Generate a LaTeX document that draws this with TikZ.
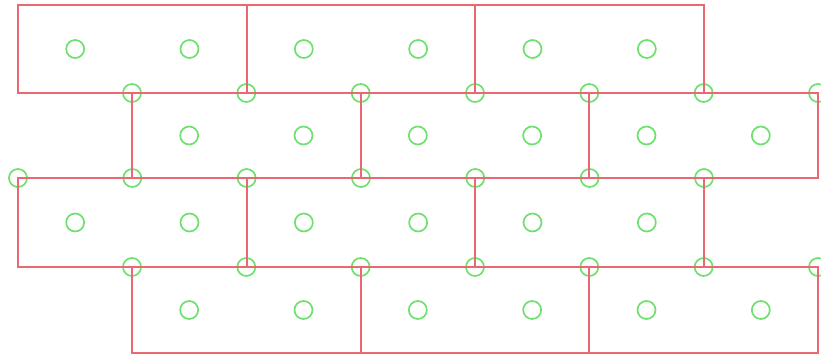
\documentclass[tikz,border=0pt]{standalone}
\definecolor{brickred}{RGB}{234,104,112}
\definecolor{pingreen}{RGB}{110,224,110}

\begin{document}
\begin{tikzpicture}[
  x=0.5pt,y=-0.5pt,
  brick/.style={draw=brickred,line width=1.15pt},
  pin/.style={draw=pingreen,line width=0.85pt}
]
  \useasboundingbox (0,0) rectangle (821,358);

  % pins: two per brick, and along the top edge of rows 2 to 4
  \foreach \xa/\ya/\yb in {18/5/93, 132/93/178, 18/178/267, 132/267/353} {
    \foreach \k in {0,1,2,3,4,5}
      \draw[pin] ({\xa+57.17+114.33*\k},{(\ya+\yb)/2}) circle (9);
  }
  \foreach \xa/\ya in {132/93, 18/178, 132/267} {
    \foreach \j in {0,...,6}
      \draw[pin] ({\xa+114.33*\j},\ya) circle (9);
  }

  % bricks
  \foreach \xa/\ya/\yb in {18/5/93, 132/93/178, 18/178/267, 132/267/353} {
    \foreach \k in {0,1,2}
      \draw[brick] ({\xa+228.67*\k},\ya) rectangle ({\xa+228.67*(\k+1)},\yb);
  }
\end{tikzpicture}
\end{document}
